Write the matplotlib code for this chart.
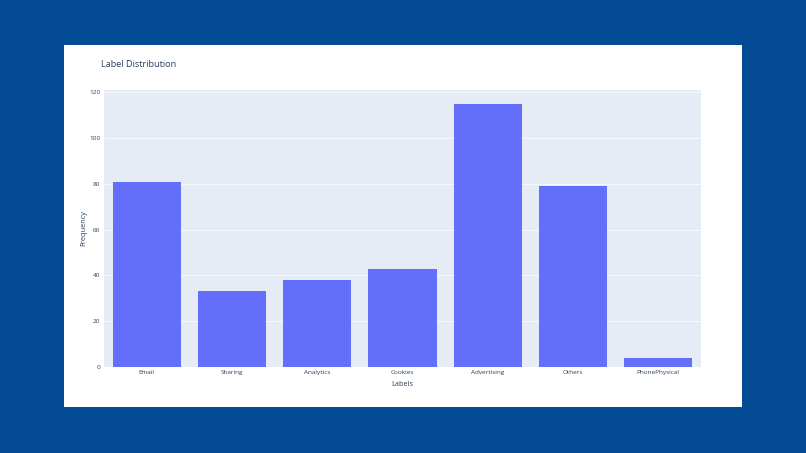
import matplotlib.pyplot as plt
from matplotlib.patches import Rectangle

labels = ["Email", "Sharing", "Analytics", "Cookies", "Advertising", "Others", "PhonePhysical"]
counts = [81, 33, 38, 43, 115, 79, 4]
yticks = [0, 20, 40, 60, 80, 100, 120]

W, H = 806, 453
plt.rcParams['font.family'] = ['Open Sans', 'DejaVu Sans']
txt = '#2a3f5f'

fig = plt.figure(figsize=(W / 100, H / 100), dpi=100)
fig.patch.set_facecolor('#044b96')

# white card
fig.add_artist(Rectangle((64 / W, 1 - 407 / H), (742 - 64) / W, (407 - 45) / H,
                         transform=fig.transFigure, facecolor='white', edgecolor='none', zorder=0))

ax = fig.add_axes([104 / W, 1 - 367 / H, (701 - 104) / W, (367 - 90) / H])
ax.set_facecolor('#e5ecf6')
ax.bar(range(len(labels)), counts, width=0.8, color='#636efa', zorder=2)
ax.set_xlim(-0.5, len(labels) - 0.5)
ax.set_ylim(0, 121.05)
ax.set_yticks(yticks)
ax.set_xticks(range(len(labels)))
ax.set_xticklabels(labels)
ax.grid(axis='y', color='white', linewidth=0.6, alpha=0.8, zorder=1)
ax.set_axisbelow(True)
for s in ax.spines.values():
    s.set_visible(False)
ax.tick_params(length=0, labelsize=4.6, labelcolor=txt, pad=2.5)
ax.set_xlabel('Labels', fontsize=5.3, color=txt, labelpad=4)
ax.set_ylabel('Frequency', fontsize=5.3, color=txt, labelpad=1.5)

fig.text(101 / W, 1 - 64.5 / H, 'Label Distribution', fontsize=6.6, color=txt, va='center', ha='left')

fig.savefig('out.png', dpi=100, facecolor=fig.get_facecolor())
